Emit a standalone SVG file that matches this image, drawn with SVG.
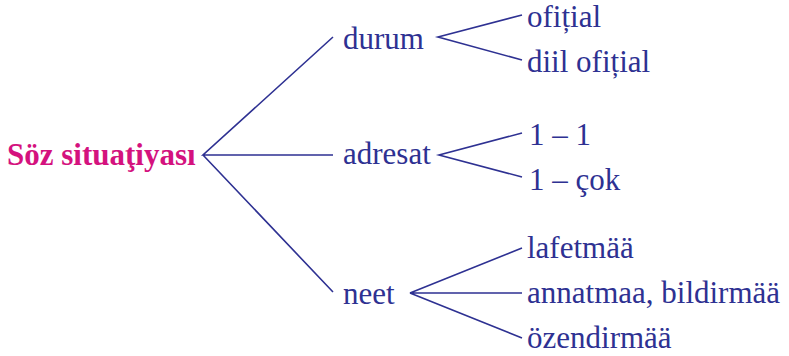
<svg xmlns="http://www.w3.org/2000/svg" width="789" height="356" viewBox="0 0 789 356">
<style>
.t{font-family:'Liberation Serif','DejaVu Serif',serif;font-size:31px;fill:#2e3192}
.root{font-family:'Liberation Serif','DejaVu Serif',serif;font-size:31px;font-weight:bold;fill:#d4127e}
.c{stroke:#2e3192;stroke-width:1.6;fill:none}
</style>
<rect width="789" height="356" fill="#ffffff"/>
<g id="connectors" class="c">
<path d="M333,37 L203,155 L333,155 M203,155 L333,292"/>
<path d="M522,15 L438,37 L522,60"/>
<path d="M522,133 L439,155 L522,177"/>
<path d="M522,248 L410,293 L522,293 M410,293 L522,338"/>
</g>
<g id="root"><text class="root" x="7" y="165">Söz situaţiyası</text></g>
<g id="durum"><text class="t" x="343" y="49">durum</text></g>
<g id="adresat"><text class="t" x="343" y="164">adresat</text></g>
<g id="neet"><text class="t" x="343" y="304">neet</text></g>
<g id="ofitial"><text class="t" x="527" y="27">ofițial</text></g>
<g id="diil-ofitial"><text class="t" x="527" y="72">diil ofițial</text></g>
<g id="one-one"><text class="t" x="529" y="145">1 – 1</text></g>
<g id="one-cok"><text class="t" x="529" y="190">1 – çok</text></g>
<g id="lafetmaa"><text class="t" x="527" y="258">lafetmää</text></g>
<g id="annatmaa"><text class="t" x="527" y="303">annatmaa, bildirmää</text></g>
<g id="ozendirmaa"><text class="t" x="527" y="348">özendirmää</text></g>
</svg>
